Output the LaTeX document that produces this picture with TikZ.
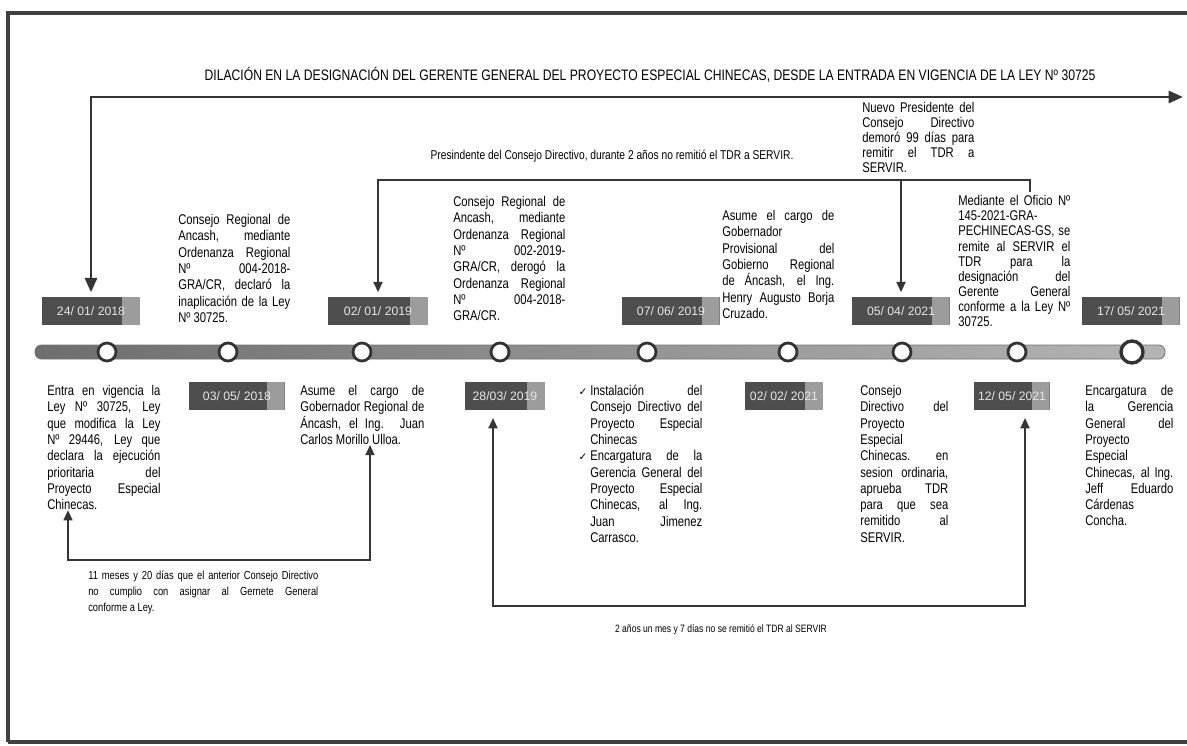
\documentclass[tikz,border=0pt]{standalone}
\usepackage{fontspec}
\setmainfont{Liberation Sans}[FakeStretch=0.8]
\newfontfamily\datefont{Liberation Sans}
\newfontfamily\symfont{DejaVu Sans}
\usetikzlibrary{arrows.meta,positioning}

\definecolor{boxdark}{HTML}{4E4E4E}
\definecolor{boxlight}{HTML}{9C9C9C}
\definecolor{boxtext}{HTML}{E6E6E6}
\definecolor{linedark}{HTML}{353535}
\definecolor{bardark}{HTML}{6E6E6E}
\definecolor{barlight}{HTML}{B4B4B4}

% lines are broken by hand in the text blocks
\tolerance=10000
\hyphenpenalty=10000
\exhyphenpenalty=10000
\newcommand{\nl}{\linebreak}
\newcommand{\ok}{\llap{\symfont\fontsize{7.5}{9}\selectfont ✓\hspace{2pt}}}

\tikzset{
  marco/.style={draw=black!75, line width=3pt},
  flecha/.style={draw=linedark, line width=2.1pt, >={Triangle[length=0.36cm,width=0.3cm]}},
  fina/.style={draw=linedark, line width=1.7pt, >={Triangle[length=0.26cm,width=0.22cm]}},
  txt/.style={font=\fontsize{10}{11.6}\selectfont, align=justify, text width=#1, inner sep=0pt, anchor=north west},
  fecha/.style={rectangle, fill=boxdark, text=boxtext, minimum width=#1, minimum height=0.68cm, inner sep=0pt,
    font=\datefont\fontsize{8.7}{10}\selectfont,
    path picture={\fill[boxlight] ([xshift=-0.45cm]path picture bounding box.north east) rectangle (path picture bounding box.south east);}},
  hito/.style={circle, fill=white, draw=black!80, line width=2pt, minimum size=0.45cm, inner sep=0pt}
}

\begin{document}
\begin{tikzpicture}[x=0.025cm, y=-0.025cm]

\useasboundingbox (0,0) rectangle (1187,745);

% frame of the figure
\draw[marco] (8,742) -- (8,13) -- (1187,13);
\draw[marco] (8,742) -- (1187,742);

% time line
\shade[left color=bardark, right color=barlight, draw=black!55, line width=0.6pt, rounded corners=0.16cm] (35,345) rectangle (1165,359);
\foreach \x [count=\i] in {107,228,362,500,647,788,902,1017}
  \node[hito] (c\i) at (\x,352) {};
\node[hito, minimum size=0.55cm, line width=2.4pt] (c9) at (1132,352) {};

% dates, above and below the line
\node[fecha=2.45cm] (d1) at (91,311) {24/ 01/ 2018};
\node[fecha=2.38cm] (d2) at (237,396) {03/ 05/ 2018};
\node[fecha=2.5cm] (d3) at (378,311) {02/ 01/ 2019};
\node[fecha=2.0cm] (d4) at (505,396) {28/03/ 2019};
\node[fecha=2.43cm] (d5) at (671,311) {07/ 06/ 2019};
\node[fecha=1.95cm] (d6) at (784,396) {02/ 02/ 2021};
\node[fecha=2.43cm] (d7) at (901,311) {05/ 04/ 2021};
\node[fecha=1.88cm] (d8) at (1012,396) {12/ 05/ 2021};
\node[fecha=2.43cm] (d9) at (1131,311) {17/ 05/ 2021};

% events
\node[txt=2.83cm] (t1) at (47,385) {Entra en vigencia la\nl Ley Nº 30725, Ley\nl que modifica la Ley\nl Nº 29446, Ley que\nl declara la ejecución\nl prioritaria del\nl Proyecto Especial\nl Chinecas.};
\node[txt=2.8cm] (t2) at (178,214) {Consejo Regional de\nl Ancash, mediante\nl Ordenanza Regional\nl Nº 004-2018-\nl GRA/CR, declaró la\nl inaplicación de la Ley\nl Nº 30725.};
\node[txt=3.1cm] (t3) at (300,385) {Asume el cargo de\nl Gobernador Regional de\nl Áncash, el Ing. Juan\nl Carlos Morillo Ulloa.};
\node[txt=2.8cm] (t4) at (453,196) {Consejo Regional de\nl Ancash, mediante\nl Ordenanza Regional\nl Nº 002-2019-\nl GRA/CR, derogó la\nl Ordenanza Regional\nl Nº 004-2018-\nl GRA/CR.};
\node[txt=2.8cm] (t5) at (590,385) {\ok Instalación del\nl Consejo Directivo del\nl Proyecto Especial\nl Chinecas\newline \ok Encargatura de la\nl Gerencia General del\nl Proyecto Especial\nl Chinecas, al Ing.\nl Juan Jimenez\nl Carrasco.};
\node[txt=2.8cm] (t6) at (722,210) {Asume el cargo de\nl Gobernador\newline Provisional del\nl Gobierno Regional\nl de Áncash, el Ing.\nl Henry Augusto Borja\nl Cruzado.};
\node[txt=2.2cm] (t7) at (860,385) {Consejo\newline Directivo del\nl Proyecto\newline Especial\newline Chinecas. en\nl sesion ordinaria,\nl aprueba TDR\nl para que sea\nl remitido al\nl SERVIR.};
\node[txt=2.8cm, font=\fontsize{10}{10.7}\selectfont] (t8) at (862,102) {Nuevo Presidente del\nl Consejo Directivo\nl demoró 99 días para\nl remitir el TDR a\nl SERVIR.};
\node[txt=2.8cm, font=\fontsize{10}{10.8}\selectfont] (t9) at (958,195) {Mediante el Oficio Nº\nl 145-2021-GRA-\newline PECHINECAS-GS, se\nl remite al SERVIR el\nl TDR para la\nl designación del\nl Gerente General\nl conforme a la Ley Nº\nl 30725.};
\node[txt=2.2cm] (t10) at (1085,385) {Encargatura de\nl la Gerencia\nl General del\nl Proyecto\newline Especial\newline Chinecas, al Ing.\nl Jeff Eduardo\nl Cárdenas\newline Concha.};

% main delay arrow
\node[font=\fontsize{10.8}{13}\selectfont] (titulo) at (650,75) {DILACIÓN EN LA DESIGNACIÓN DEL GERENTE GENERAL DEL PROYECTO ESPECIAL CHINECAS, DESDE LA ENTRADA EN VIGENCIA DE LA LEY Nº 30725};
\coordinate (fin) at (1183,97);
\draw[flecha,<->,shorten <=0.12cm] (d1.north) |- (fin);

% two years without sending the TDR
\node[font=\fontsize{9.1}{11}\selectfont] (lab2) at (612,156) {Presindente del Consejo Directivo, durante 2 años no remitió el TDR a SERVIR.};
\coordinate (b1) at (1030,180);
\coordinate (b2) at (1030,192);
\draw[fina,<-,shorten <=0.12cm] (d3.north) |- (b1) -- (b2);
\draw[fina,->,shorten >=0.12cm] (d7.north |- b1) -- (d7.north);

% 11 months and 20 days
\coordinate (k1) at (68,560);
\coordinate (k2) at (370,560);
\draw[fina,<->] (k1 |- t1.south) -- (k1) -- (k2) -- (k2 |- t3.south);
\node[txt=5.75cm, font=\fontsize{8.3}{11.4}\selectfont] (t11) at (88,571) {11 meses y 20 días que el anterior Consejo Directivo\nl no cumplio con asignar al Gernete General\nl conforme a Ley.};

% 2 years, one month and 7 days
\coordinate (m1) at (493,606);
\coordinate (m2) at (1025,606);
\draw[fina,<->,shorten <=0.2cm,shorten >=0.2cm] (m1 |- d4.south) -- (m1) -- (m2) -- (m2 |- d8.south);
\node[font=\fontsize{7.6}{10}\selectfont] (lab4) at (721,630) {2 años un mes y 7 días no se remitió el TDR al SERVIR};

\end{tikzpicture}
\end{document}
